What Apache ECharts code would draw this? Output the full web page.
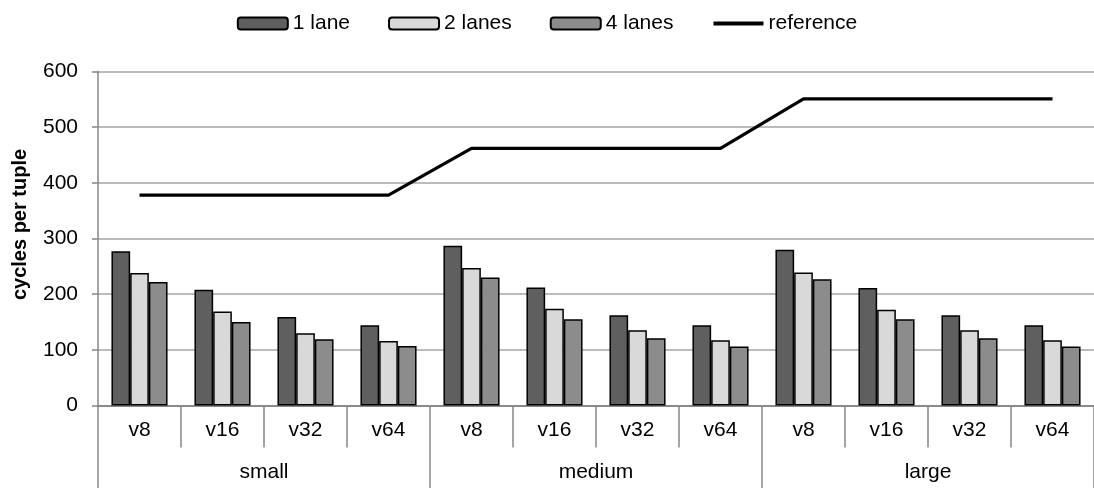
<!DOCTYPE html>
<html>
<head>
<meta charset="utf-8">
<script src="https://cdn.jsdelivr.net/npm/echarts@6/dist/echarts.min.js"></script>
<style>
html,body{margin:0;padding:0;background:#fff;}
#chart{width:1094px;height:488px;}
</style>
</head>
<body>
<div id="chart"></div>
<script>
const subCategories = ['v8','v16','v32','v64','v8','v16','v32','v64','v8','v16','v32','v64'];
const groupCategories = ['small','medium','large'];
const lane1 = [277, 208, 159, 144, 287, 212, 162, 144, 280, 211, 162, 144];
const lanes2 = [238, 169, 130, 116, 247, 174, 135, 117, 239, 172, 135, 117];
const lanes4 = [222, 150, 119, 107, 230, 155, 121, 106, 227, 155, 121, 106];
const reference = [378, 378, 378, 378, 462, 462, 462, 462, 551, 551, 551, 551];
const yTicks = {min: 0, max: 600, interval: 100};

const FONT = 'Liberation Sans, Arial, sans-serif';
const FS = 21;
const chart = echarts.init(document.getElementById('chart'), null, {renderer: 'canvas'});

function barSeries(name, data, color) {
  return {
    name: name, type: 'bar', data: data, xAxisIndex: 0, yAxisIndex: 0,
    barWidth: 18.7, barGap: '0%',
    itemStyle: {color: color, borderColor: '#000', borderWidth: 1.5},
    emphasis: {disabled: true}
  };
}

chart.setOption({
  animation: false,
  backgroundColor: '#fff',
  textStyle: {fontFamily: FONT},
  legend: {
    top: 8, left: 'center',
    itemWidth: 50, itemHeight: 12, itemGap: 38,
    textStyle: {fontFamily: FONT, fontSize: FS, color: '#000'},
    data: ['1 lane', '2 lanes', '4 lanes',
      {name: 'reference', itemStyle: {opacity: 0}, lineStyle: {width: 4, color: '#000'}}]
  },
  grid: {left: 98, top: 71.5, width: 1000, bottom: 82.5, containLabel: false},
  xAxis: [
    {
      type: 'category', data: subCategories, position: 'bottom',
      boundaryGap: true,
      axisLine: {lineStyle: {color: '#868686', width: 1.5}},
      axisTick: {show: true, length: 42, lineStyle: {color: '#868686', width: 1.5}},
      axisLabel: {margin: 14, fontSize: FS, color: '#000', fontFamily: FONT, interval: 0},
      splitLine: {show: false}
    },
    {
      type: 'category', data: groupCategories, position: 'bottom',
      boundaryGap: true,
      axisLine: {lineStyle: {color: '#868686', width: 1.5}},
      axisTick: {show: true, length: 84, lineStyle: {color: '#868686', width: 1.5}},
      axisLabel: {margin: 56, fontSize: FS, color: '#000', fontFamily: FONT, interval: 0},
      splitLine: {show: false}
    }
  ],
  yAxis: {
    type: 'value', min: yTicks.min, max: yTicks.max, interval: yTicks.interval,
    name: 'cycles per tuple', nameLocation: 'middle', nameGap: 68,
    nameRotate: 90,
    nameTextStyle: {fontFamily: FONT, fontSize: 20, fontWeight: 'bold', color: '#000', padding: [0, 0, 0, 28]},
    axisLine: {show: true, lineStyle: {color: '#868686', width: 1.5}},
    axisTick: {show: true, length: 6, lineStyle: {color: '#868686', width: 1.5}},
    axisLabel: {margin: 20, fontSize: FS, color: '#000', fontFamily: FONT},
    splitLine: {show: true, lineStyle: {color: '#a6a6a6', width: 1.5}}
  },
  series: [
    barSeries('1 lane', lane1, '#5f5f5f'),
    barSeries('2 lanes', lanes2, '#d9d9d9'),
    barSeries('4 lanes', lanes4, '#8c8c8c'),
    {
      name: 'reference', type: 'line', data: reference, xAxisIndex: 0, yAxisIndex: 0,
      symbol: 'none', color: '#000',
      lineStyle: {color: '#000', width: 3.2},
      emphasis: {disabled: true}
    }
  ]
});
</script>
</body>
</html>
